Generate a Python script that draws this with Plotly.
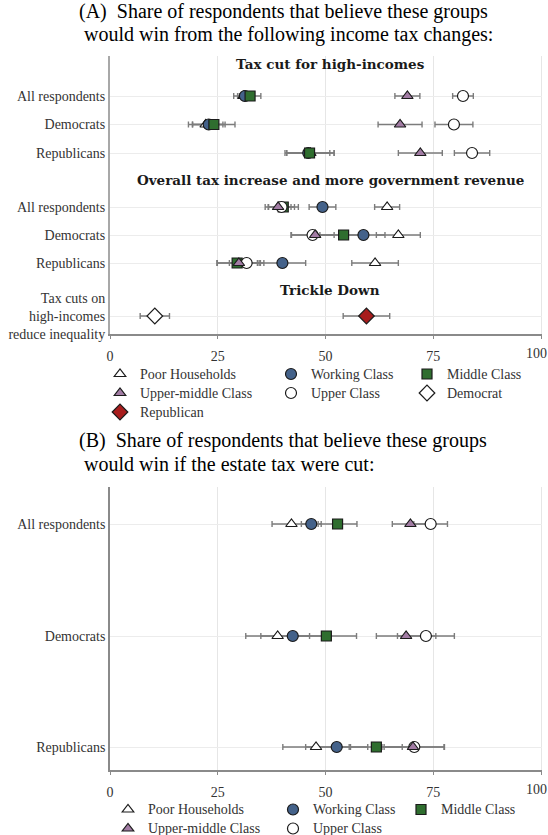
import plotly.graph_objects as go

# ---------------- DATA ----------------
X_TICKS = [0, 25, 50, 75, 100]

# Panel A -- income tax changes
A_ROW_LABELS = ["All respondents", "Democrats", "Republicans",
                "All respondents", "Democrats", "Republicans"]
A_SECTIONS = ["Tax cut for high-incomes",
              "Overall tax increase and more government revenue",
              "Trickle Down"]

A_poor = [31.0, 22.2, 46.5, 64.3, 66.9, 61.5]
A_poor_ci = [2.3, 4.0, 5.5, 2.9, 5.1, 5.4]
A_working = [31.3, 22.9, 46.0, 49.3, 58.8, 40.0]
A_working_ci = [1.7, 3.8, 5.0, 3.1, 5.0, 5.4]
A_middle = [32.5, 24.1, 46.3, 40.2, 54.2, 29.5]
A_middle_ci = [2.5, 4.9, 5.7, 3.5, 5.5, 4.7]
A_upper = [81.9, 79.8, 84.0, 39.8, 47.0, 31.7]
A_upper_ci = [2.4, 4.4, 4.1, 3.0, 5.0, 4.0]
A_uppermid = [69.0, 67.3, 72.0, 39.0, 47.6, 29.9]
A_uppermid_ci = [2.9, 5.1, 5.1, 3.0, 5.5, 5.0]

TD_LABEL = "Tax cuts on<br>high-incomes<br>reduce inequality"
TD_PARTIES = ["Democrat", "Republican"]
TD_values = [10.4, 59.5]
TD_ci = [3.4, 5.4]

# Panel B -- estate tax cut
B_ROW_LABELS = ["All respondents", "Democrats", "Republicans"]
B_poor = [42.1, 38.9, 47.8]
B_poor_ci = [4.5, 7.4, 7.7]
B_working = [46.7, 42.4, 52.6]
B_working_ci = [2.3, 7.4, 7.2]
B_middle = [52.8, 50.2, 61.8]
B_middle_ci = [4.5, 7.0, 6.0]
B_upper = [74.4, 73.3, 70.6]
B_upper_ci = [3.9, 6.6, 7.0]
B_uppermid = [69.7, 68.7, 70.3]
B_uppermid_ci = [4.2, 6.9, 7.2]

GROUPS = ["Poor Households", "Working Class", "Middle Class",
          "Upper Class", "Upper-middle Class"]

# ---------------- LAYOUT CONSTANTS ----------------
W, H = 548, 835
X_LEFT, X_100 = 110, 541
X_MAX = 100.3
X_RIGHT = X_LEFT + (X_100 - X_LEFT) * X_MAX / 100.0
A_ROW_POS = [96, 124.5, 153, 207, 235, 263]
A_TD_POS = 316
A_HEAD_POS = [64, 180, 290]
A_YRANGE = [334, 56]
B_ROW_POS = [524, 636, 747]
B_YRANGE = [770, 487]


def fx(p):
    return p / W


def fy(p):
    return 1 - p / H


STYLE = {
    "Poor Households": dict(symbol="triangle-up", color="white", size=10),
    "Working Class": dict(symbol="circle", color="#44628a", size=11),
    "Middle Class": dict(symbol="square", color="#2f6e2f", size=10),
    "Upper Class": dict(symbol="circle", color="white", size=11),
    "Upper-middle Class": dict(symbol="triangle-up", color="#a27ca4", size=10),
    "Democrat": dict(symbol="diamond", color="white", size=12),
    "Republican": dict(symbol="diamond", color="#a81d1d", size=12),
}
A_LEGEND = {"Poor Households": "legend", "Upper-middle Class": "legend",
            "Republican": "legend", "Working Class": "legend2",
            "Upper Class": "legend2", "Middle Class": "legend3",
            "Democrat": "legend3"}
B_LEGEND = {"Poor Households": "legend4", "Upper-middle Class": "legend4",
            "Working Class": "legend5", "Upper Class": "legend5",
            "Middle Class": "legend6"}

CI_COLOR = "#7c7c7c"
SERIF = "Liberation Serif"

A_series = {"Poor Households": (A_poor, A_poor_ci),
            "Working Class": (A_working, A_working_ci),
            "Middle Class": (A_middle, A_middle_ci),
            "Upper Class": (A_upper, A_upper_ci),
            "Upper-middle Class": (A_uppermid, A_uppermid_ci)}
B_series = {"Poor Households": (B_poor, B_poor_ci),
            "Working Class": (B_working, B_working_ci),
            "Middle Class": (B_middle, B_middle_ci),
            "Upper Class": (B_upper, B_upper_ci),
            "Upper-middle Class": (B_uppermid, B_uppermid_ci)}

fig = go.Figure()


def ci_trace(x, ci, y, xa, ya):
    return go.Scatter(x=x, y=y, mode="markers", xaxis=xa, yaxis=ya,
                      marker=dict(size=1, opacity=0),
                      error_x=dict(type="data", array=ci, visible=True,
                                   color=CI_COLOR, thickness=1.4, width=3),
                      showlegend=False, hoverinfo="skip")


def mk_trace(name, x, y, xa, ya, legend):
    st = STYLE[name]
    return go.Scatter(x=x, y=y, mode="markers", xaxis=xa, yaxis=ya,
                      name="<span style='font-size:14px'>%s</span>" % name,
                      legend=legend,
                      marker=dict(symbol=st["symbol"], color=st["color"],
                                  size=st["size"],
                                  line=dict(color="#1b1b1b", width=1.2)))


# CI layers first (beneath every marker)
for g in GROUPS:
    v, c = A_series[g]
    fig.add_trace(ci_trace(v, c, A_ROW_POS, "x", "y"))
for i, p in enumerate(TD_PARTIES):
    fig.add_trace(ci_trace([TD_values[i]], [TD_ci[i]], [A_TD_POS], "x", "y"))
for g in GROUPS:
    v, c = B_series[g]
    fig.add_trace(ci_trace(v, c, B_ROW_POS, "x2", "y2"))

# markers
for g in GROUPS:
    v, c = A_series[g]
    fig.add_trace(mk_trace(g, v, A_ROW_POS, "x", "y", A_LEGEND[g]))
for i, p in enumerate(TD_PARTIES):
    fig.add_trace(mk_trace(p, [TD_values[i]], [A_TD_POS], "x", "y", A_LEGEND[p]))
for g in GROUPS:
    v, c = B_series[g]
    fig.add_trace(mk_trace(g, v, B_ROW_POS, "x2", "y2", B_LEGEND[g]))

# the last tick label sits on the page edge; it is written as a right-anchored
# annotation so that it stays inside the page
tick_text = [str(t) for t in X_TICKS[:-1]] + [""]

xdom = [fx(X_LEFT), fx(X_RIGHT)]
xcommon = dict(range=[0, X_MAX], tickvals=X_TICKS, ticktext=tick_text,
               showgrid=True, gridcolor="#e6e6e6", gridwidth=1,
               zeroline=False, showline=True, linecolor="#8a8a8a", linewidth=1.5,
               ticks="outside", ticklen=3, tickcolor="#8a8a8a",
               tickfont=dict(family=SERIF, size=14, color="#333333"),
               ticklabelstandoff=5, fixedrange=True)
ycommon = dict(showgrid=True, gridcolor="#ececec", gridwidth=1, zeroline=False,
               showline=True, ticks="",
               tickfont=dict(family=SERIF, size=14, color="#333333"),
               fixedrange=True)

legend_common = dict(bgcolor="rgba(0,0,0,0)", orientation="v",
                     xanchor="left", yanchor="top", tracegroupgap=0,
                     font=dict(family=SERIF, size=12, color="#333333"))

fig.update_layout(
    width=W, height=H, margin=dict(l=0, r=0, t=0, b=0, autoexpand=False),
    paper_bgcolor="white", plot_bgcolor="white",
    xaxis=dict(domain=xdom, anchor="y", **xcommon),
    yaxis=dict(domain=[fy(A_YRANGE[0]), fy(A_YRANGE[1])], anchor="x",
               range=A_YRANGE, tickvals=A_ROW_POS + [A_TD_POS],
               ticktext=A_ROW_LABELS + [TD_LABEL],
               linecolor="#a8a8a8", linewidth=2, **ycommon),
    xaxis2=dict(domain=xdom, anchor="y2", **xcommon),
    yaxis2=dict(domain=[fy(B_YRANGE[0]), fy(B_YRANGE[1])], anchor="x2",
                range=B_YRANGE, tickvals=B_ROW_POS, ticktext=B_ROW_LABELS,
                linecolor="#8a8a8a", linewidth=1.5, **ycommon),
    legend=dict(x=fx(100), y=fy(359.5), **legend_common),
    legend2=dict(x=fx(271), y=fy(359.5), **legend_common),
    legend3=dict(x=fx(407), y=fy(359.5), **legend_common),
    legend4=dict(x=fx(108), y=fy(795), **legend_common),
    legend5=dict(x=fx(273), y=fy(795), **legend_common),
    legend6=dict(x=fx(401), y=fy(795), **legend_common),
)

annotations = []
# panel titles
TITLE_A = ["(A)  Share of respondents that believe these groups",
           "would win from the following income tax changes:"]
TITLE_B = ["(B)  Share of respondents that believe these groups",
           "would win if the estate tax were cut:"]
for lines, y0 in [(TITLE_A, 11.5), (TITLE_B, 440.5)]:
    annotations.append(dict(text=lines[0], x=fx(77), y=fy(y0), xref="paper", yref="paper",
                            xanchor="left", yanchor="middle", showarrow=False,
                            font=dict(family=SERIF, size=20, color="black")))
    annotations.append(dict(text=lines[1], x=fx(82), y=fy(y0 + 23), xref="paper", yref="paper",
                            xanchor="left", yanchor="middle", showarrow=False,
                            font=dict(family=SERIF, size=20, color="black")))
# section headers
for s, yp in zip(A_SECTIONS, A_HEAD_POS):
    annotations.append(dict(text="<b>%s</b>" % s, x=fx(330), y=yp, xref="paper", yref="y",
                            xanchor="center", yanchor="middle", showarrow=False,
                            font=dict(family="DejaVu Serif", size=13.5, color="#1a1a1a")))
# last x tick label of each panel
for axis_bottom in [A_YRANGE[0], B_YRANGE[0]]:
    annotations.append(dict(text=str(X_TICKS[-1]), x=1.0, y=fy(axis_bottom + 19),
                            xref="paper", yref="paper", xanchor="right", yanchor="middle",
                            showarrow=False, borderpad=0,
                            font=dict(family=SERIF, size=14, color="#333333")))
fig.update_layout(annotations=annotations)

fig.write_html("out.html")
